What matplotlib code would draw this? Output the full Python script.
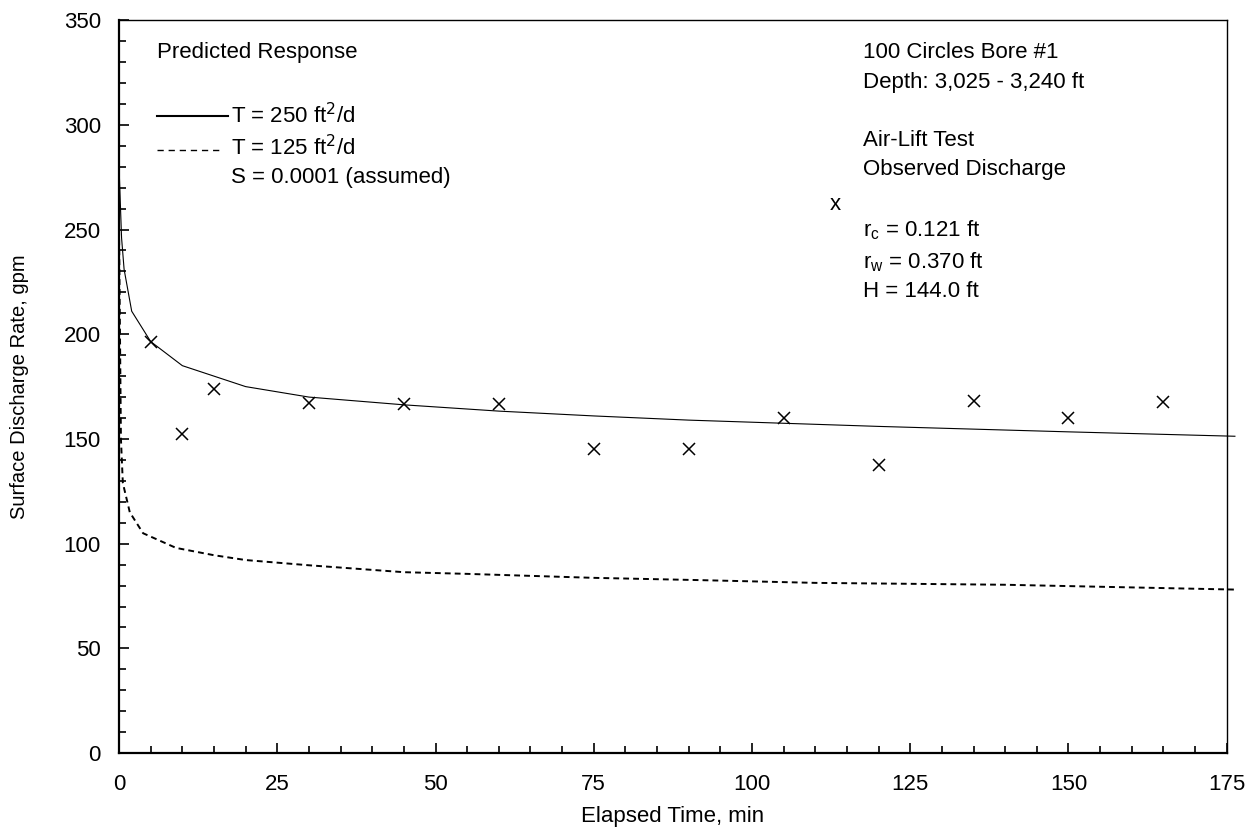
import matplotlib
matplotlib.use("Agg")
import matplotlib.pyplot as plt
from matplotlib.lines import Line2D
from matplotlib.ticker import MultipleLocator

plt.rcParams['font.family'] = ['Liberation Sans', 'DejaVu Sans']

# Observed discharge (air-lift test)
obs_time = [5, 10, 15, 30, 45, 60, 75, 90, 105, 120, 135, 150, 165]
obs_rate = [196.5, 152.5, 174, 167, 166.5, 166.5, 145, 145, 160, 137.5, 168, 160, 167.5]

# Predicted response, T = 250 ft2/d
t250 = [0, 0.4, 0.8, 2, 5, 10, 20, 30, 45, 60, 75, 90, 105, 120, 135, 150, 176.3]
q250 = [280, 246, 231, 211, 196.5, 185, 175, 170, 166.3, 163.3, 161, 159, 157.5, 156, 154.7, 153.4, 151.3]

# Predicted response, T = 125 ft2/d
t125 = [0, 0.3, 0.6, 1.7, 3.8, 9, 15, 20, 30, 45, 55, 75, 92, 110, 140, 176.3]
q125 = [250, 150, 129, 115, 105, 98, 94.5, 92.2, 89.7, 86.4, 85.6, 83.7, 82.6, 81.3, 80.4, 78.1]

fig = plt.figure(figsize=(12.53, 8.35), dpi=100)
ax = fig.add_axes([0.095, 0.098, 0.884, 0.878])

ax.plot(t250, q250, color='black', lw=0.8, clip_on=False)
ax.plot(t125, q125, color='black', lw=1.4, dashes=(3.0, 2.1), clip_on=False)
ax.plot(obs_time, obs_rate, 'x', color='black', ms=9, mew=1.1)

ax.set_xlim(0, 175)
ax.set_ylim(0, 350)
ax.xaxis.set_major_locator(MultipleLocator(25))
ax.xaxis.set_minor_locator(MultipleLocator(5))
ax.yaxis.set_major_locator(MultipleLocator(50))
ax.yaxis.set_minor_locator(MultipleLocator(10))
ax.tick_params(which='both', direction='in', labelsize=16, top=False, right=False, width=1.2)
ax.tick_params(which='major', length=7)
ax.tick_params(which='minor', length=5)
ax.tick_params(axis='x', which='major', pad=15)
ax.tick_params(axis='y', which='major', pad=13)

for s in ['left', 'bottom']:
    ax.spines[s].set_linewidth(1.6)
for s in ['top', 'right']:
    ax.spines[s].set_linewidth(1.0)

ax.set_xlabel('Elapsed Time, min', fontsize=16, labelpad=8)
ax.set_ylabel('Surface Discharge Rate, gpm', fontsize=14.5, labelpad=25)

# legend block (left)
fs = 16
def ay(py):
    return (753 - py) / 733.0
def ax_(px):
    return (px - 119) / 1108.0

ax.text(ax_(157), ay(52), 'Predicted Response', fontsize=fs, va='center', transform=ax.transAxes)
ax.add_line(Line2D([ax_(157), ax_(228)], [ay(116), ay(116)], color='black', lw=1.5, transform=ax.transAxes))
ax.text(ax_(231), ay(116), r'T = 250 ft$^2$/d', fontsize=fs, va='center', transform=ax.transAxes)
ax.add_line(Line2D([ax_(157), ax_(220)], [ay(150), ay(150)], color='black', lw=1.0, dashes=(4.5, 3.5),
                   transform=ax.transAxes))
ax.text(ax_(231), ay(148), r'T = 125 ft$^2$/d', fontsize=fs, va='center', transform=ax.transAxes)
ax.text(ax_(231), ay(177), 'S = 0.0001 (assumed)', fontsize=fs, va='center', transform=ax.transAxes)

# info block (right)
info = [(52, '100 Circles Bore #1'), (82, 'Depth: 3,025 - 3,240 ft'),
        (140, 'Air-Lift Test'), (169, 'Observed Discharge'),
        (230, r'r$_\mathregular{c}$ = 0.121 ft'), (262, r'r$_\mathregular{w}$ = 0.370 ft'),
        (291, 'H = 144.0 ft')]
for py, txt in info:
    ax.text(ax_(863), ay(py), txt, fontsize=fs, va='center', transform=ax.transAxes)
ax.text(ax_(836), ay(204), 'x', fontsize=fs, va='center', ha='center', transform=ax.transAxes)

fig.savefig('out.png', dpi=100)
